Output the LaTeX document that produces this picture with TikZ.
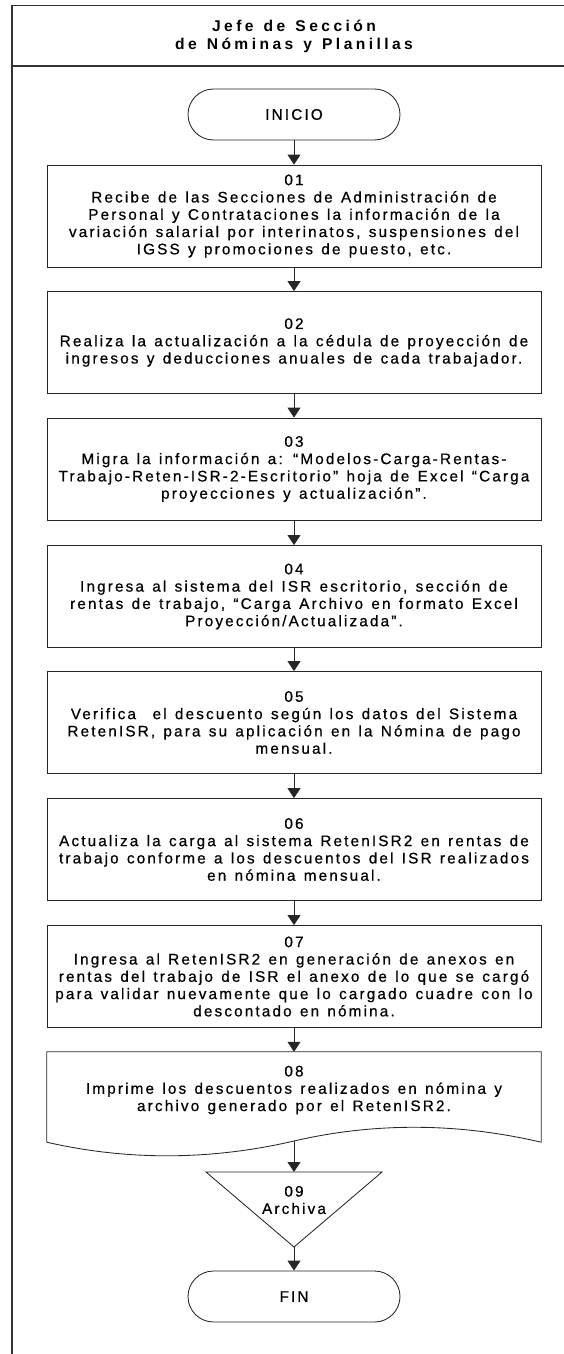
\documentclass[tikz,border=0pt]{standalone}
\usepackage{fontspec}
\setmainfont{Liberation Sans}[LetterSpace=14,WordSpace=1.3,FakeBold=0.6]
\newfontfamily\headfont{Liberation Sans}[LetterSpace=22,WordSpace=1.3]
\usetikzlibrary{arrows.meta}
\begin{document}
\begin{tikzpicture}[x=1pt,y=-1pt,
  every node/.style={font=\fontsize{15.3}{17.3}\selectfont, align=center, inner sep=0pt},
  stepbox/.style={draw=black!85, minimum width=494pt, minimum height=102pt, line width=0.85pt},
  termbox/.style={draw=black!85, rounded corners=25.5pt, minimum width=212pt, minimum height=51pt, line width=0.85pt},
  shapeline/.style={draw=black!85, line width=0.85pt},
  flow/.style={draw=black!85, -{Triangle[length=10pt,width=13pt]}, line width=0.85pt},
  frameline/.style={draw=black!80, line width=1.1pt}]
\useasboundingbox (0,0) rectangle (564,1354);
% frame
\draw[frameline] (564,5.5) -- (12,5.5) -- (12,1354);
\draw[frameline] (12,66) -- (564,66);
\node[font=\headfont\bfseries\fontsize{15.6}{18.3}\selectfont] (head) at (294,36.5)
  {Jefe de Sección\\de Nóminas y Planillas};
% nodes
\node[termbox] (ini) at (294,114.5) {INICIO};
\node[stepbox] (b01) at (294,216) {01\\Recibe de las Secciones de Administración de\\Personal y Contrataciones la información de la\\variación salarial por interinatos, suspensiones del\\IGSS y promociones de puesto, etc.};
\node[stepbox] (b02) at (294,342.5) {02\\Realiza la actualización a la cédula de proyección de\\ingresos y deducciones anuales de cada trabajador.};
\node[stepbox] (b03) at (294,469) {03\\Migra la información a: “Modelos-Carga-Rentas-\\Trabajo-Reten-ISR-2-Escritorio” hoja de Excel “Carga\\proyecciones y actualización”.};
\node[stepbox] (b04) at (294,596.5) {04\\Ingresa al sistema del ISR escritorio, sección de\\rentas de trabajo, “Carga Archivo en formato Excel\\Proyección/Actualizada”.};
\node[stepbox] (b05) at (294,722.5) {05\\Verifica\ \ el descuento según los datos del Sistema\\RetenISR, para su aplicación en la Nómina de pago\\mensual.};
\node[stepbox] (b06) at (294,849.5) {06\\Actualiza la carga al sistema RetenISR2 en rentas de\\trabajo conforme a los descuentos del ISR realizados\\en nómina mensual.};
\node[stepbox] (b07) at (294,976.5) {07\\Ingresa al RetenISR2 en generación de anexos en\\rentas del trabajo de ISR el anexo de lo que se cargó\\para validar nuevamente que lo cargado cuadre con lo\\descontado en nómina.};
% document shape 08
\node[minimum width=494pt, minimum height=90pt] (b08) at (294,1097) {};
\draw[shapeline] (b08.south west) -- (b08.north west) -- (b08.north east) -- (b08.south east)
  .. controls (459,1123) and (376,1122) .. (294,1141)
  .. controls (212,1160) and (129,1161) .. (b08.south west);
\node (t08) at (294,1090) {08\\Imprime los descuentos realizados en nómina y\\archivo generado por el RetenISR2.};
\coordinate (d08) at (294,1141);
% triangle 09
\coordinate (t09) at (294,1172);
\coordinate (t09b) at (294,1247);
\draw[shapeline] (206,1172) -- (382,1172) -- (t09b) -- cycle;
\node (n09) at (294,1200) {09\\Archiva};
\node[termbox] (fin) at (294,1296.5) {FIN};
% connectors
\draw[flow] (ini) -- (b01);
\draw[flow] (b01) -- (b02);
\draw[flow] (b02) -- (b03);
\draw[flow] (b03) -- (b04);
\draw[flow] (b04) -- (b05);
\draw[flow] (b05) -- (b06);
\draw[flow] (b06) -- (b07);
\draw[flow] (b07) -- (b08.north);
\draw[flow] (d08) -- (t09);
\draw[flow] (t09b) -- (fin);
\end{tikzpicture}
\end{document}
